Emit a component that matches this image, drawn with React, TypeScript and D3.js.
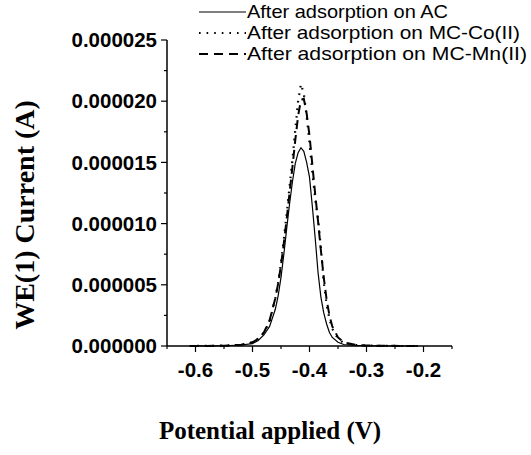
import React from "react";
import * as d3 from "d3";

const potentials = [-0.61, -0.58, -0.55, -0.52, -0.5, -0.49, -0.48, -0.47, -0.46, -0.455, -0.45, -0.445, -0.44, -0.435, -0.43, -0.425, -0.42, -0.415, -0.41, -0.405, -0.4, -0.395, -0.39, -0.385, -0.38, -0.375, -0.37, -0.365, -0.36, -0.35, -0.34, -0.32, -0.3, -0.27, -0.24, -0.21];
// currents in microamps
const acCurrent = [0, 0.01, 0.02, 0.08, 0.2, 0.45, 0.9, 1.6, 3.0, 4.1, 5.6, 7.5, 9.6, 11.6, 13.4, 14.9, 15.8, 16.2, 15.9, 15.0, 13.8, 11.4, 8.8, 6.0, 4.0, 2.7, 1.8, 1.1, 0.7, 0.3, 0.12, 0.05, 0.02, 0.01, 0, 0];
const coCurrent = [0, 0.01, 0.03, 0.1, 0.3, 0.6, 1.1, 2.0, 3.9, 5.2, 6.8, 8.7, 10.8, 13.0, 15.2, 17.6, 20.0, 21.4, 20.6, 18.8, 16.6, 14.2, 12.0, 10.4, 8.0, 5.2, 3.4, 2.2, 1.4, 0.6, 0.25, 0.08, 0.03, 0.01, 0, 0];
const mnCurrent = [0, 0.01, 0.03, 0.1, 0.3, 0.6, 1.1, 2.1, 3.9, 5.1, 6.6, 8.4, 10.4, 12.5, 14.6, 16.8, 18.8, 20.1, 20.2, 19.0, 17.2, 14.8, 12.4, 10.2, 7.8, 5.6, 3.8, 2.5, 1.6, 0.7, 0.3, 0.1, 0.04, 0.02, 0.01, 0];

const xTicks = [-0.6, -0.5, -0.4, -0.3, -0.2];
const yTicks = [0, 0.000005, 0.00001, 0.000015, 0.00002, 0.000025];
const seriesNames = ["After adsorption on AC", "After adsorption on MC-Co(II)", "After adsorption on MC-Mn(II)"];
const legendWidths = [201, 273, 280];

const W = 531, H = 455;
const left = 167, right = 452, top = 40, bottom = 346;

export default function App() {
  const x = d3.scaleLinear().domain([-0.65, -0.15]).range([left, right]);
  const y = d3.scaleLinear().domain([0, 0.000025]).range([bottom, top]);
  const line = d3.line<number>().x((_, i) => x(potentials[i])).y((d) => y(d * 1e-6));
  const series = [
    { values: acCurrent, dash: undefined as string | undefined, width: 1.2 },
    { values: coCurrent, dash: "1.6 6", width: 2.2 },
    { values: mnCurrent, dash: "9 6", width: 2 },
  ];
  const xMinor = d3.range(-0.65, -0.149, 0.05);
  const yMinor = d3.range(0, 0.0000251, 0.0000025);
  const tickFont = "'Liberation Sans', Arial, sans-serif";
  return (
    <svg width={W} height={H} style={{ position: "absolute", left: 0, top: 0, background: "#fff" }}>
      {series.map((s, i) => (
        <path key={i} d={line(s.values) || ""} fill="none" stroke="#000" strokeWidth={s.width} strokeDasharray={s.dash} />
      ))}
      <line x1={left} x2={left} y1={top} y2={bottom} stroke="#000" strokeWidth={1.5} />
      <line x1={left} x2={right} y1={bottom} y2={bottom} stroke="#000" strokeWidth={1.5} />
      {yMinor.map((v, i) => (
        <line key={"ym" + i} x1={left} x2={left - (i % 2 === 0 ? 6 : 3)} y1={y(v)} y2={y(v)} stroke="#000" strokeWidth={1.2} />
      ))}
      {xMinor.map((v, i) => (
        <line key={"xm" + i} y1={bottom} y2={bottom + (i % 2 === 1 ? 6 : 3)} x1={x(v)} x2={x(v)} stroke="#000" strokeWidth={1.2} />
      ))}
      {yTicks.map((v) => (
        <text key={"yt" + v} x={left - 10} y={y(v)} dy="0.35em" textAnchor="end" fontFamily={tickFont} fontWeight="bold" fontSize={20.5}>
          {v.toFixed(6)}
        </text>
      ))}
      {xTicks.map((v) => (
        <text key={"xt" + v} x={x(v)} y={bottom + 31} textAnchor="middle" fontFamily={tickFont} fontWeight="bold" fontSize={20.5}>
          {v.toFixed(1)}
        </text>
      ))}
      <text x={270} y={439} textAnchor="middle" fontFamily="'Liberation Serif', 'Times New Roman', serif" fontWeight="bold" fontSize={25}>
        Potential applied (V)
      </text>
      <text transform={`translate(34, 215) rotate(-90)`} textAnchor="middle" fontFamily="'Liberation Serif', 'Times New Roman', serif" fontWeight="bold" fontSize={28}>
        WE(1) Current (A)
      </text>
      {seriesNames.map((name, i) => (
        <g key={name} transform={`translate(0, ${12 + i * 21})`}>
          <line x1={199} x2={246} y1={0} y2={0} stroke="#000" strokeWidth={i === 0 ? 1.2 : 2} strokeDasharray={series[i].dash} />
          <text x={247} y={0} dy="0.35em" fontFamily={tickFont} fontSize={18.5} textLength={legendWidths[i]} lengthAdjust="spacingAndGlyphs">
            {name}
          </text>
        </g>
      ))}
    </svg>
  );
}
